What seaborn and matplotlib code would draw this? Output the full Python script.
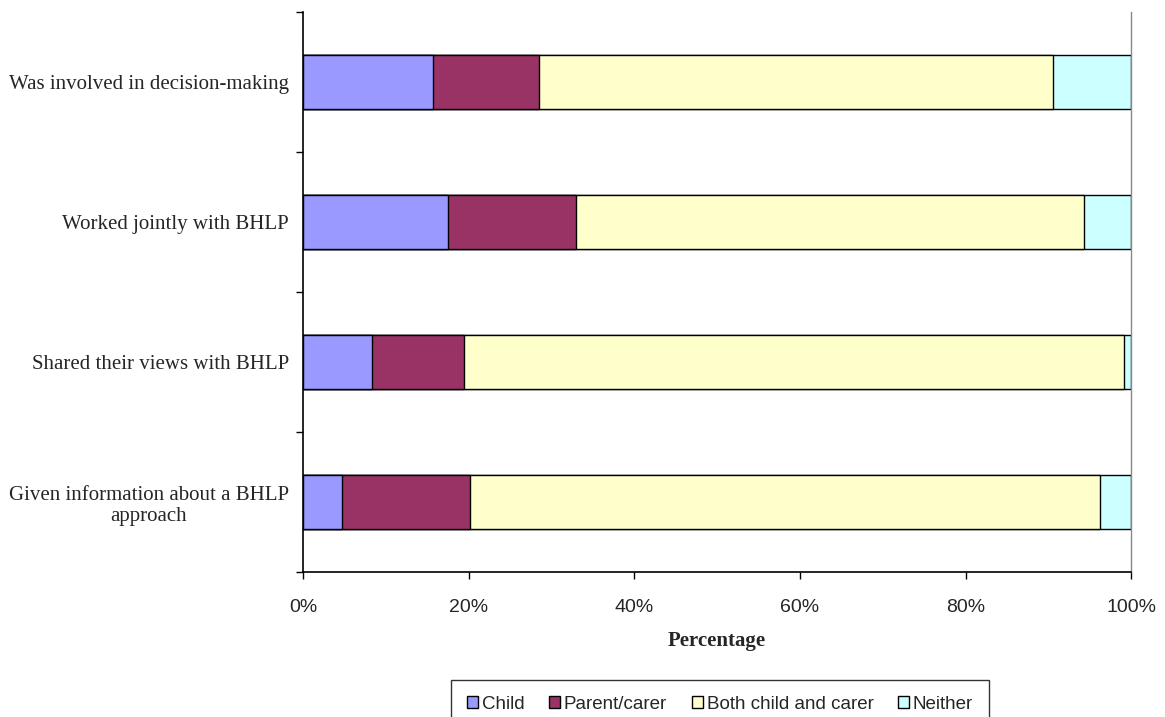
import matplotlib
matplotlib.use("Agg")
import matplotlib.pyplot as plt
import numpy as np
import pandas as pd
import seaborn as sns
from matplotlib.patches import Patch
from matplotlib.ticker import FixedLocator, PercentFormatter

# Data (percent of respondents)
ITEMS = [
    "Was involved in decision-making",
    "Worked jointly with BHLP",
    "Shared their views with BHLP",
    "Given information about a BHLP\napproach",
]
SERIES = ["Child", "Parent/carer", "Both child and carer", "Neither"]
CHILD = [15.7, 17.5, 8.4, 4.7]
PARENT = [12.8, 15.5, 11.0, 15.5]
BOTH = [62.1, 61.3, 79.7, 76.0]
NEITHER = [9.4, 5.7, 0.9, 3.8]
COLORS = ["#9999FF", "#993366", "#FFFFCC", "#CCFFFF"]

sns.set_theme(style="white")
plt.rcParams["font.family"] = ["Liberation Sans", "DejaVu Sans"]

df = pd.DataFrame({"item": ITEMS, "Child": CHILD, "Parent/carer": PARENT,
                   "Both child and carer": BOTH, "Neither": NEITHER})
cum = df[SERIES].cumsum(axis=1)
cum["item"] = df["item"]

fig = plt.figure(figsize=(11.65, 7.17), dpi=100)
ax = fig.add_axes([0.260, 0.202, 0.711, 0.781])

# draw from the outermost cumulative segment inwards
for name, col in reversed(list(zip(SERIES, COLORS))):
    sns.barplot(data=cum, x=name, y="item", orient="h", order=ITEMS,
                color=col, saturation=1, width=0.386, edgecolor="black",
                linewidth=1.0, ax=ax)

ax.set_xlim(0, 100)
ax.set_ylim(3.5, -0.5)
ax.xaxis.set_major_locator(FixedLocator([0, 20, 40, 60, 80, 100]))
ax.xaxis.set_major_formatter(PercentFormatter(decimals=0))
ax.tick_params(axis="x", which="major", direction="out", length=5, width=1,
               color="black", labelsize=14, pad=14, bottom=True)
ax.tick_params(axis="y", which="major", length=0, pad=10)
ax.yaxis.set_minor_locator(FixedLocator([-0.5, 0.5, 1.5, 2.5, 3.5]))
ax.tick_params(axis="y", which="minor", direction="out", length=5, width=1,
               color="black", left=True)
for t in ax.get_yticklabels():
    t.set_fontfamily("Liberation Serif")
    t.set_fontsize(15)
    t.set_multialignment("center")

ax.set_ylabel("")
ax.set_xlabel("Percentage", fontfamily="Liberation Serif", fontweight="bold",
              fontsize=15, labelpad=11)

for side in ["left", "bottom"]:
    ax.spines[side].set_color("black")
    ax.spines[side].set_linewidth(1.2)
ax.spines["right"].set_color("#888888")
ax.spines["right"].set_linewidth(1.0)
ax.spines["top"].set_visible(False)

handles = [Patch(facecolor=c, edgecolor="black", linewidth=1.0, label=s)
           for s, c in zip(SERIES, COLORS)]
leg = fig.legend(handles=handles, loc="upper center", ncol=4,
                 bbox_to_anchor=(0.618, 0.0516), borderaxespad=0,
                 frameon=True, fancybox=False,
                 fontsize=13.5, handlelength=0.6, handleheight=0.6,
                 handletextpad=0.2, columnspacing=1.3, borderpad=0.85)
leg.get_frame().set_edgecolor("black")
leg.get_frame().set_linewidth(1.0)

fig.savefig("out.png", dpi=100)
